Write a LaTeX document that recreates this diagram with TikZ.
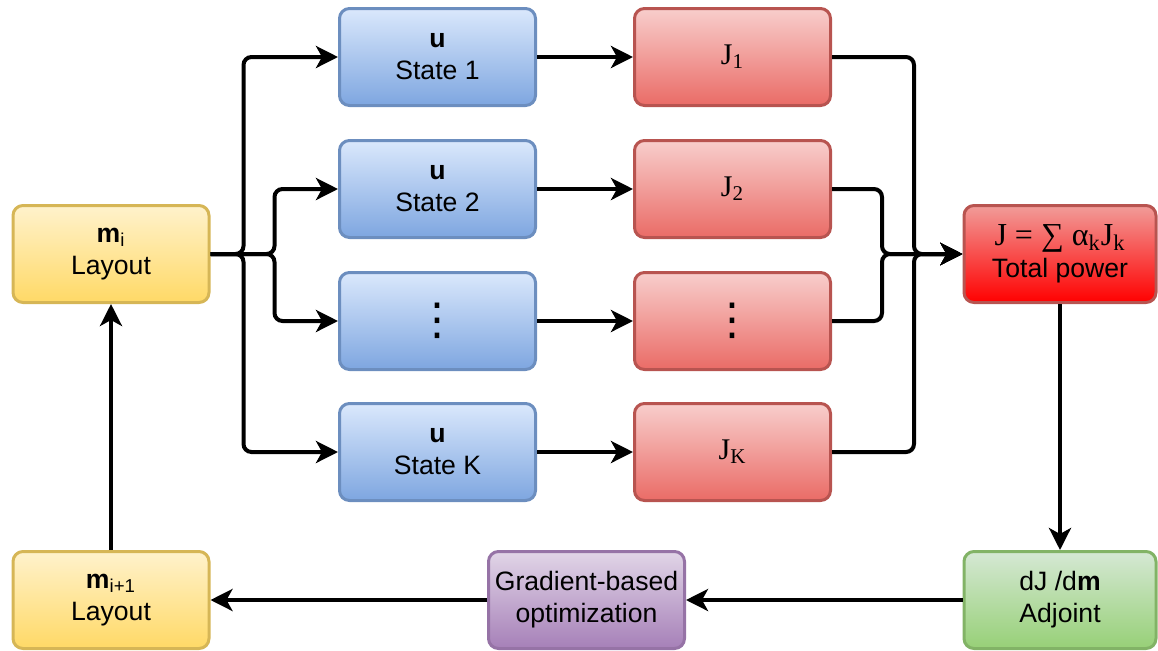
\documentclass[tikz,border=0pt]{standalone}
\usepackage{fontspec}
\setmainfont{Liberation Sans}
\newfontfamily\jfont{Liberation Serif}
\newfontfamily\symfont{DejaVu Sans}
\usetikzlibrary{arrows.meta}
\definecolor{ylwtop}{HTML}{FFF2CC}\definecolor{ylwbot}{HTML}{FFD966}\definecolor{ylwline}{HTML}{D6B656}
\definecolor{blutop}{HTML}{DAE8FC}\definecolor{blubot}{HTML}{7EA6E0}\definecolor{bluline}{HTML}{6C8EBF}
\definecolor{redtop}{HTML}{F8CECC}\definecolor{redbot}{HTML}{EA6B66}\definecolor{redline}{HTML}{B85450}
\definecolor{tottop}{HTML}{F19C99}\definecolor{totbot}{HTML}{FF0000}
\definecolor{grntop}{HTML}{D5E8D4}\definecolor{grnbot}{HTML}{97D077}\definecolor{grnline}{HTML}{82B366}
\definecolor{pnktop}{HTML}{E1D5E7}\definecolor{pnkbot}{HTML}{A680B8}\definecolor{pnkline}{HTML}{9673A6}
\newcommand{\bigvdots}{{\symfont\fontsize{22}{22}\selectfont ⋮}}
\begin{document}
\begin{tikzpicture}[x=0.5pt,y=-0.5pt,
        box/.style={rectangle,rounded corners=5pt,line width=1.5pt,minimum width=98pt,minimum height=48.5pt,
            align=center,inner sep=0pt,font=\fontsize{13.3}{16}\selectfont},
        layoutbox/.style={box,draw=ylwline,top color=ylwtop,bottom color=ylwbot},
        statebox/.style={box,draw=bluline,top color=blutop,bottom color=blubot},
        costbox/.style={box,draw=redline,top color=redtop,bottom color=redbot,font=\jfont\fontsize{15}{18}\selectfont},
        arr/.style={line width=2pt,rounded corners=4pt,-{Stealth[length=11pt,width=11pt,inset=3pt]}}]
        \useasboundingbox (0,0) rectangle (1158,650);
        \node[layoutbox] (mi) at (111,254) {\textbf{m}\textsubscript{i}\\Layout};
        \node[layoutbox] (mnext) at (111,600) {\textbf{m}\textsubscript{i+1}\\Layout};
        \node[statebox] (s1) at (437.5,57) {\textbf{u}\\State 1};
        \node[statebox] (s2) at (437.5,189) {\textbf{u}\\State 2};
        \node[statebox] (s3) at (437.5,321) {\bigvdots};
        \node[statebox] (sk) at (437.5,452) {\textbf{u}\\State K};
        \node[costbox] (j1) at (732.5,57) {J\textsubscript{1}};
        \node[costbox] (j2) at (732.5,189) {J\textsubscript{2}};
        \node[costbox] (j3) at (732.5,321) {\bigvdots};
        \node[costbox] (jk) at (732.5,452) {J\textsubscript{K}};
        \node[box,minimum width=96pt,draw=redline,top color=tottop,bottom color=totbot] (tp) at (1060,254)
            {{\jfont\fontsize{16}{16}\selectfont J = ∑ α\textsubscript{k}J\textsubscript{k}}\\Total power};
        \node[box,minimum width=96pt,draw=grnline,top color=grntop,bottom color=grnbot] (adj) at (1060,600) {dJ /d\textbf{m}\\Adjoint};
        \node[box,draw=pnkline,top color=pnktop,bottom color=pnkbot] (opt) at (586.5,600) {Gradient-based\\optimization};
        \draw[arr] (mi.east) -- ++(33,0) |- (s1.west);
        \draw[arr] (mi.east) -- ++(64,0) |- (s2.west);
        \draw[arr] (mi.east) -- ++(64,0) |- (s3.west);
        \draw[arr] (mi.east) -- ++(33,0) |- (sk.west);
        \draw[arr] (s1) -- (j1);
        \draw[arr] (s2) -- (j2);
        \draw[arr] (s3) -- (j3);
        \draw[arr] (sk) -- (jk);
        \draw[arr] (j1.east) -- ++(82,0) |- (tp.west);
        \draw[arr] (j2.east) -- ++(50,0) |- (tp.west);
        \draw[arr] (j3.east) -- ++(50,0) |- (tp.west);
        \draw[arr] (jk.east) -- ++(82,0) |- (tp.west);
        \draw[arr] (tp) -- (adj);
        \draw[arr] (adj) -- (opt);
        \draw[arr] (opt) -- (mnext);
        \draw[arr] (mnext) -- (mi);
\end{tikzpicture}
\end{document}
